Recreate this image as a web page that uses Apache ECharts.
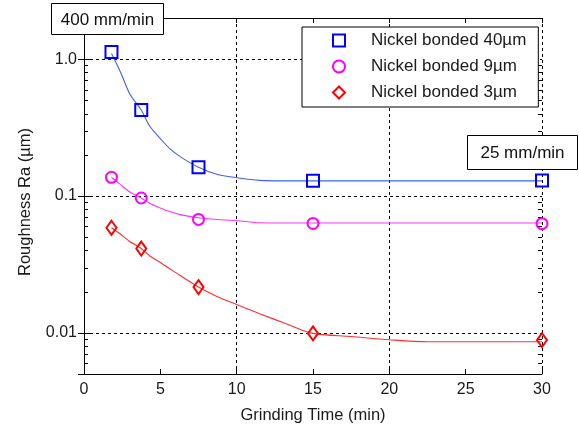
<!DOCTYPE html>
<html>
<head>
<meta charset="utf-8">
<script src="https://cdn.jsdelivr.net/npm/echarts@6/dist/echarts.min.js"></script>
<style>
html,body{margin:0;padding:0;background:#fff;}
#chart{width:579px;height:429px;}
</style>
</head>
<body>
<div id="chart"></div>
<script>
// ---- data ----
const seriesNames = ['Nickel bonded 40\u00b5m', 'Nickel bonded 9\u00b5m', 'Nickel bonded 3\u00b5m'];
const markTime = [1.8, 3.75, 7.5, 15, 30];
const ra40 = [1.13, 0.425, 0.162, 0.129, 0.130];
const ra9  = [0.137, 0.0967, 0.0674, 0.063, 0.0628];
const ra3  = [0.0586, 0.0413, 0.0216, 0.0099, 0.00885];

const fitTime = [1.8, 2.4, 3, 3.75, 4.3, 5, 5.6, 6.3, 7.5, 8.7, 10, 11.5, 13.2, 15, 17.5, 20, 22.5, 25, 30];
const fit40 = [1.10, 0.80, 0.557, 0.425, 0.325, 0.263, 0.223, 0.194, 0.162, 0.144, 0.136, 0.130, 0.129, 0.129, 0.129, 0.129, 0.129, 0.129, 0.129];
const fit9  = [0.137, 0.121, 0.107, 0.0967, 0.0885, 0.0818, 0.077, 0.0731, 0.0693, 0.0674, 0.0662, 0.0637, 0.0635, 0.0635, 0.0635, 0.0635, 0.0635, 0.0635, 0.0635];
const fit3  = [0.0586, 0.0525, 0.0465, 0.0413, 0.0366, 0.0327, 0.0295, 0.0262, 0.0216, 0.01845, 0.0161, 0.0138, 0.0117, 0.0099, 0.0094, 0.0089, 0.0086, 0.0086, 0.0086];

const xTicks = [0, 5, 10, 15, 20, 25, 30];
const yMinorTicks = [0.006, 0.007, 0.008, 0.009, 0.02, 0.03, 0.04, 0.05, 0.06, 0.07, 0.08, 0.09, 0.2, 0.3, 0.4, 0.5, 0.6, 0.7, 0.8, 0.9];
const annotations = ['400 mm/min', '25 mm/min'];
const xName = 'Grinding Time (min)';
const yName = 'Roughness Ra (\u00b5m)';

// ---- chart ----
const FONT = '"Liberation Sans", Arial, sans-serif';
const TXT = '#1a1a1a';
const xMin = xTicks[0], xMax = xTicks[xTicks.length - 1];
const yMin = 0.005, yMax = 2;

const zip = (xs, ys) => xs.map((x, i) => [x, ys[i]]);
const colors = ['#0000ff', '#ff00ff', '#ff0000'];
const lineColors = ['#4060f0', '#ff33ff', '#ff3030'];
const symbols = ['rect', 'circle', 'diamond'];
const symSizes = [12, 11, [10, 14]];
const marks = [ra40, ra9, ra3];
const fits = [fit40, fit9, fit3];

const axisLine = { show: true, lineStyle: { color: '#000', width: 1 } };
const dashed = { show: true, lineStyle: { color: '#000', width: 1, type: [3, 3] } };

const series = [];
fits.forEach((f, i) => {
  series.push({
    name: seriesNames[i] + ' fit', type: 'line', data: zip(fitTime, f),
    showSymbol: false, symbol: 'none', smooth: 0.3,
    lineStyle: { color: lineColors[i], width: 1.1 }, silent: true, z: 3
  });
});
marks.forEach((m, i) => {
  series.push({
    name: seriesNames[i], type: 'scatter', data: zip(markTime, m),
    symbol: symbols[i], symbolSize: symSizes[i],
    itemStyle: { color: 'rgba(255,255,255,0)', borderColor: colors[i], borderWidth: 2, opacity: 1 },
    z: 4
  });
});
series.push({
  type: 'custom', silent: true, z: 2,
  data: yMinorTicks.map(v => [xMin, v]),
  renderItem: function (params, api) {
    const v = api.value(1);
    const pL = api.coord([xMin, v]);
    const pR = api.coord([xMax, v]);
    const y = Math.round(pL[1]) + 0.5;
    return {
      type: 'group', children: [
        { type: 'line', shape: { x1: pL[0], y1: y, x2: pL[0] + 4, y2: y }, style: { stroke: '#000', lineWidth: 1 } },
        { type: 'line', shape: { x1: pR[0] - 4, y1: y, x2: pR[0], y2: y }, style: { stroke: '#000', lineWidth: 1 } }
      ]
    };
  }
});

const option = {
  animation: false,
  backgroundColor: '#fff',
  textStyle: { fontFamily: FONT },
  grid: { left: 84, right: 37, top: 18, bottom: 50, containLabel: false },
  legend: {
    data: seriesNames.map((n, i) => ({ name: n, icon: symbols[i] })),
    orient: 'vertical', left: 302, top: 27,
    padding: [5, 12, 6, 30],
    itemWidth: 12, itemHeight: 12, itemGap: 9,
    symbolKeepAspect: true,
    backgroundColor: '#fff', borderColor: '#000', borderWidth: 1, borderRadius: 0,
    textStyle: { fontFamily: FONT, fontSize: 17, color: TXT, padding: [0, 0, 0, 21] },
    selectedMode: false, z: 20
  },
  xAxis: [
    {
      type: 'value', position: 'bottom', min: xMin, max: xMax, interval: 5,
      axisLine: axisLine,
      axisTick: { show: true, inside: true, length: 5, lineStyle: { color: '#000' } },
      axisLabel: { show: true, fontSize: 16, color: TXT, margin: 8, fontFamily: FONT },
      splitLine: { show: false },
      name: xName, nameLocation: 'middle', nameGap: 33,
      nameTextStyle: { fontSize: 16.5, color: TXT, fontFamily: FONT }
    },
    {
      type: 'value', position: 'top', min: xMin, max: xMax, interval: 5,
      axisLine: axisLine,
      axisTick: { show: true, inside: true, length: 5, lineStyle: { color: '#000' } },
      axisLabel: { show: false }, splitLine: { show: false }
    },
    {
      type: 'value', position: 'bottom', min: xMin, max: xMax, interval: 10,
      axisLine: { show: false }, axisTick: { show: false }, axisLabel: { show: false },
      splitLine: dashed
    }
  ],
  yAxis: [
    {
      type: 'log', logBase: 10, position: 'left', min: yMin, max: yMax,
      axisLine: axisLine,
      axisTick: { show: true, inside: true, length: 6, lineStyle: { color: '#000' } },
      axisLabel: {
        show: true, fontSize: 16, color: TXT, margin: 7, fontFamily: FONT,
        showMinLabel: false, showMaxLabel: false,
        formatter: v => (v >= 1 ? Number(v).toFixed(1) : String(+Number(v).toPrecision(3)))
      },
      splitLine: dashed,
      name: yName, nameLocation: 'middle', nameGap: 50,
      nameTextStyle: { fontSize: 16.5, color: TXT, fontFamily: FONT, padding: [0, 12, 0, 0] }
    },
    {
      type: 'log', logBase: 10, position: 'right', min: yMin, max: yMax,
      axisLine: axisLine,
      axisTick: { show: true, inside: true, length: 6, lineStyle: { color: '#000' } },
      axisLabel: { show: false }, splitLine: { show: false }
    }
  ],
  graphic: [
    { type: 'rect', z: 100, shape: { x: 51.5, y: 3.5, width: 112, height: 31 }, style: { fill: '#fff', stroke: '#000', lineWidth: 1 } },
    { type: 'text', z: 101, x: 107.5, y: 20, style: { text: annotations[0], fontSize: 17, fontFamily: FONT, fill: '#111', align: 'center', verticalAlign: 'middle', textAlign: 'center', textVerticalAlign: 'middle' } },
    { type: 'rect', z: 100, shape: { x: 467.5, y: 135.5, width: 110, height: 34 }, style: { fill: '#fff', stroke: '#000', lineWidth: 1 } },
    { type: 'text', z: 101, x: 522.5, y: 153, style: { text: annotations[1], fontSize: 17, fontFamily: FONT, fill: '#111', align: 'center', verticalAlign: 'middle', textAlign: 'center', textVerticalAlign: 'middle' } }
  ],
  series: series
};

const chart = echarts.init(document.getElementById('chart'), null, { renderer: 'canvas' });
chart.setOption(option);
</script>
</body>
</html>
